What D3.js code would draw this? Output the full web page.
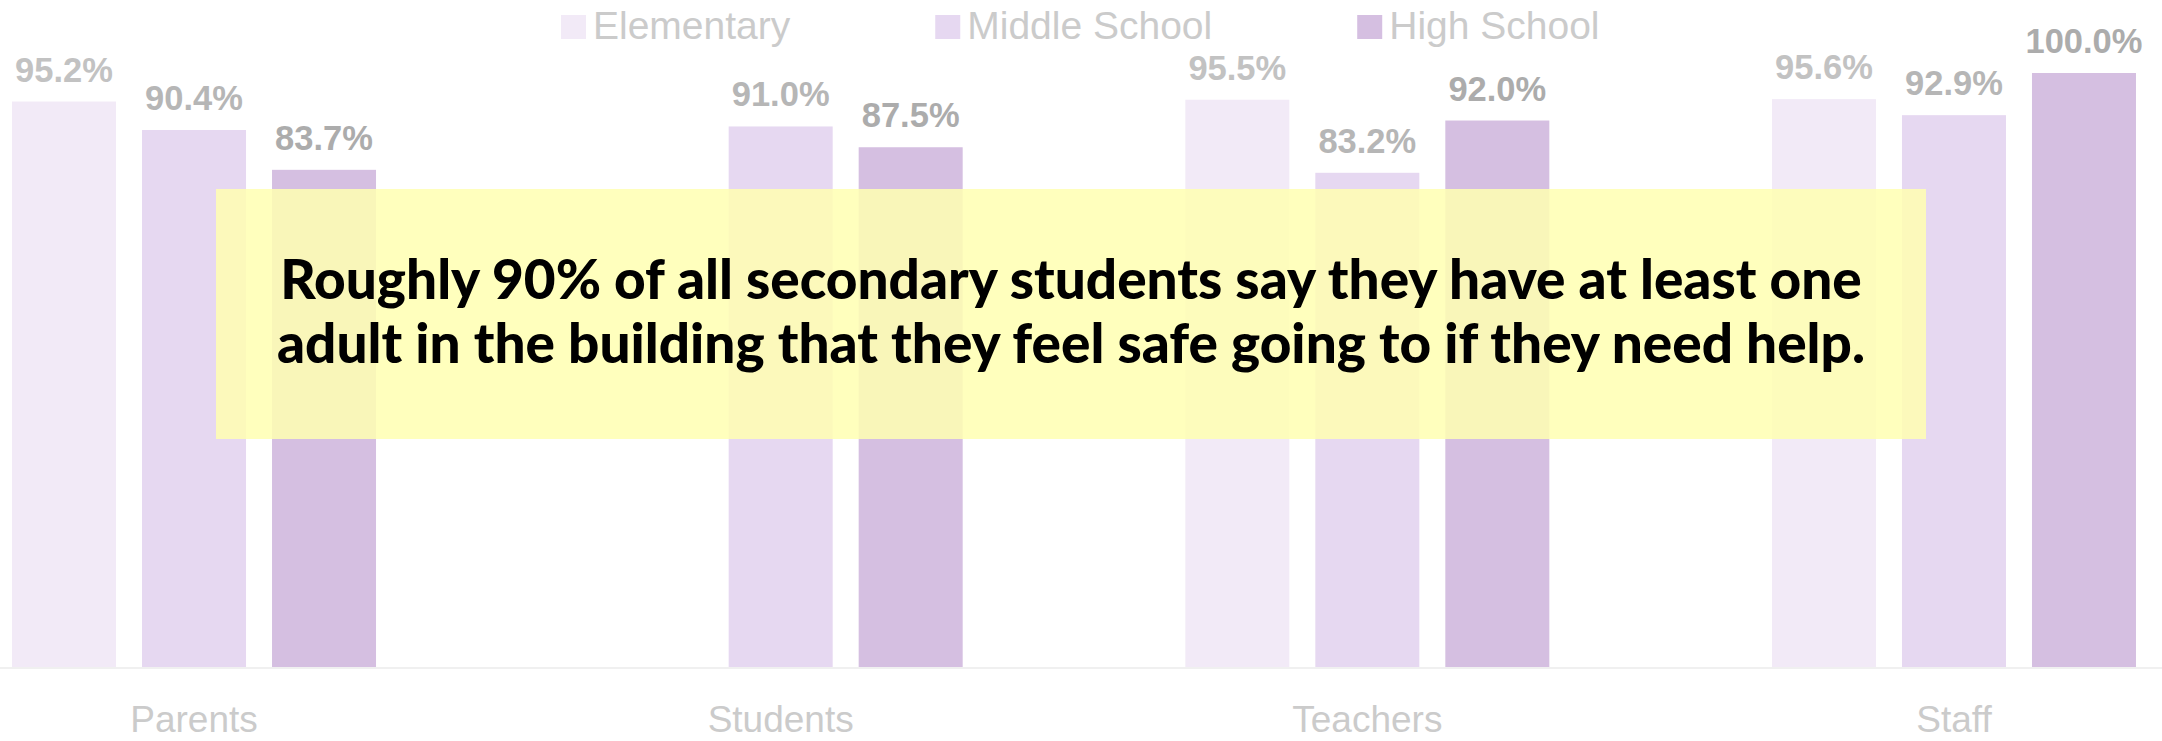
<!DOCTYPE html>
<html>
<head>
<meta charset="utf-8">
<script src="https://cdn.jsdelivr.net/npm/d3@7"></script>
<style>
  html, body { margin: 0; padding: 0; background: #ffffff; overflow: hidden; }
  svg { display: block; }
</style>
</head>
<body>
<svg id="chart" width="2162" height="741"></svg>
<script>
// ---- data ----
const categories = ["Parents", "Students", "Teachers", "Staff"];
const seriesNames = ["Elementary", "Middle School", "High School"];
const elementary = [95.2, null, 95.5, 95.6];
const middleSchool = [90.4, 91.0, 83.2, 92.9];
const highSchool = [83.7, 87.5, 92.0, 100.0];
const seriesValues = [elementary, middleSchool, highSchool];
const calloutLines = [
  "Roughly 90% of all secondary students say they have at least one",
  "adult in the building that they feel safe going to if they need help."
];

// ---- styles ----
const barColors = ["#f2eaf7", "#e6d8f1", "#d5bfe1"];
const labelColors = ["#c2c2c2", "#b6b6b6", "#acacac"];
const textGray = "#cbcbcb";
const baseFont = "'Liberation Sans', Arial, sans-serif";

const W = 2162, H = 741;
const svg = d3.select("#chart");

const x0 = d3.scaleBand().domain(categories).range([-99.3, 2247.3]).padding(0);
const groupWidth = 364;
const x1 = d3.scaleBand().domain(seriesNames).range([0, groupWidth]).paddingInner(0.2).paddingOuter(0);
const y = d3.scaleLinear().domain([0, 100]).range([667, 73]);

const rows = [];
categories.forEach((c, ci) => {
  seriesNames.forEach((s, si) => {
    const v = seriesValues[si][ci];
    if (v !== null && v !== undefined) rows.push({ cat: c, ser: s, si, v });
  });
});
const gx = c => x0(c) + (x0.bandwidth() - groupWidth) / 2;

// bars
svg.append("g").selectAll("rect").data(rows).join("rect")
  .attr("x", d => gx(d.cat) + x1(d.ser))
  .attr("y", d => y(d.v))
  .attr("width", x1.bandwidth())
  .attr("height", d => y(0) - y(d.v))
  .attr("fill", d => barColors[d.si]);

// value labels
svg.append("g").selectAll("text").data(rows).join("text")
  .attr("x", d => gx(d.cat) + x1(d.ser) + x1.bandwidth() / 2)
  .attr("y", d => y(d.v) - 20)
  .attr("text-anchor", "middle")
  .attr("font-family", baseFont)
  .attr("font-weight", "bold")
  .attr("font-size", 34.5)
  .attr("fill", d => labelColors[d.si])
  .text(d => d.v.toFixed(1) + "%");

// baseline
svg.append("line")
  .attr("x1", 0).attr("x2", W)
  .attr("y1", y(0) + 1).attr("y2", y(0) + 1)
  .attr("stroke", "#f0f0f0").attr("stroke-width", 2);

// category axis
const xAxis = d3.axisBottom(x0).tickSize(0).tickPadding(0);
const axG = svg.append("g").call(xAxis);
axG.select(".domain").remove();
axG.selectAll("text")
  .attr("y", 732).attr("dy", null)
  .attr("font-family", baseFont)
  .attr("font-size", 37)
  .attr("fill", textGray);

// legend
const legend = svg.append("g");
let lx = 561;
seriesNames.forEach((s, i) => {
  legend.append("rect").attr("x", lx).attr("y", 15).attr("width", 25).attr("height", 24).attr("fill", barColors[i]);
  const t = legend.append("text").attr("x", lx + 32).attr("y", 39)
    .attr("font-family", baseFont).attr("font-size", 39).attr("fill", textGray).text(s);
  const w = t.node().getComputedTextLength();
  lx = lx + 32 + w + 145;
});

// callout box
svg.append("rect")
  .attr("x", 216).attr("y", 189).attr("width", 1710).attr("height", 250)
  .attr("fill", "#ffffb2").attr("fill-opacity", 0.85);

const cg = svg.append("g");
const targetWidth = 1582;
const ct = cg.selectAll("text").data(calloutLines).join("text")
  .attr("x", 1071)
  .attr("y", (d, i) => 299 + i * 63.5)
  .attr("text-anchor", "middle")
  .attr("font-family", "Lato, 'Open Sans', sans-serif")
  .attr("font-weight", 900)
  .attr("font-size", 48)
  .attr("fill", "#000000")
  .text(d => d);
const w0 = ct.nodes()[0].getComputedTextLength();
ct.attr("font-size", 48 * targetWidth / w0);
</script>
</body>
</html>
